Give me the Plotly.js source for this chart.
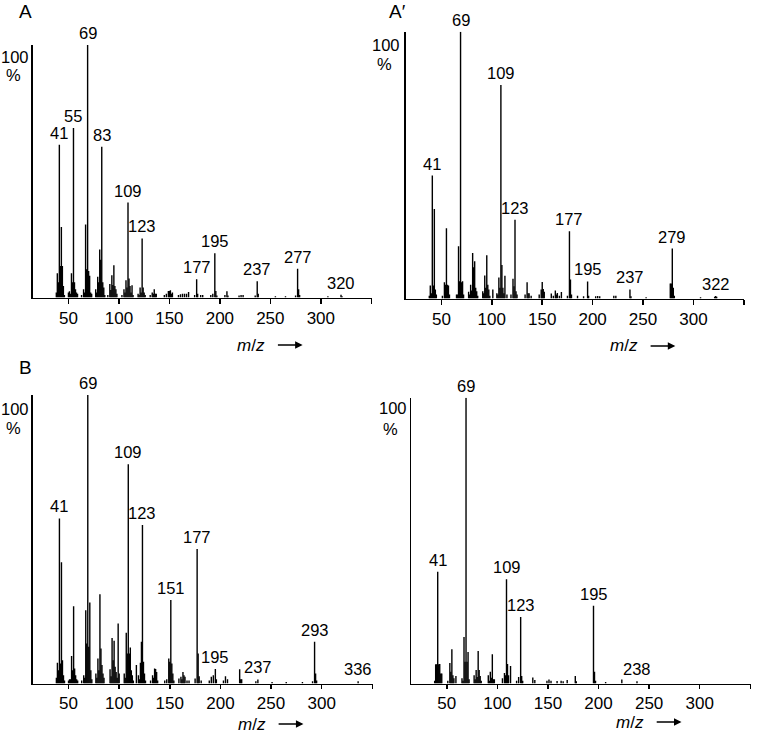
<!DOCTYPE html>
<html>
<head>
<meta charset="utf-8">
<script src="https://cdn.plot.ly/plotly-3.0.1.min.js"></script>
<style>html,body{margin:0;padding:0;background:#fff;}#chart{width:765px;height:735px;}</style>
</head>
<body>
<div id="chart"></div>
<script>
// Panel A
var mzA = [38,39,40,41,42,43,44,45,46,50,51,52,53,54,55,56,57,58,59,63,65,66,67,68,69,70,71,72,73,77,78,79,80,81,82,83,84,85,86,89,91,92,93,94,95,96,97,98,103,105,106,107,108,109,110,111,112,113,114,119,120,121,122,123,124,125,126,131,133,134,135,136,137,145,147,149,150,151,152,153,159,161,163,165,167,169,175,177,178,181,183,191,193,195,196,197,205,207,208,219,221,223,235,237,238,255,265,275,277,278,279,307,320,321];
var intA = [2,9.6,6,60.5,12.5,27.9,12.5,4.6,1,2,2.5,1.5,9.6,6,67.1,6,3.3,2,1.5,1,3.3,2,28.9,11.2,100,10.5,8.6,2,1.5,3.3,2,8.2,6,19,15,59.7,6,4,1,1,5.3,3,8.8,5,12.8,4.6,3.3,1.5,1,3.3,2,6.8,4,37.6,7.5,4.6,2,4.9,1,1.5,1,4,2,23.4,4,2,1,1,2,1.5,3.3,1.5,1.5,1,1.5,2.6,2.6,2.9,1.5,2,1,1.3,1.5,1.5,1.5,2.2,1,7.2,1.5,1,1,1,1.5,17.5,2.6,0.8,1,2.5,0.8,0.8,1,1,0.8,6.4,1.5,0.5,0.5,0.8,11.4,3.3,1,0.5,1.1,0.5];
var labA = [41,55,69,83,109,123,177,195,237,277,320];

// Panel A'
var mzA2 = [38,39,40,41,42,43,44,45,51,53,54,55,56,57,58,65,66,67,68,69,70,71,72,77,78,79,80,81,82,83,84,85,86,91,92,93,94,95,96,97,98,101,105,106,107,108,109,110,111,112,113,115,119,121,122,123,124,125,133,135,136,137,139,147,149,150,151,152,159,161,163,164,165,167,169,175,177,178,179,185,191,195,196,203,205,207,221,223,237,238,253,277,278,279,280,281,307,321,322,323];
var intA2 = [1,4.9,2,46.1,4.9,33.5,3.4,1.5,1,6.1,5.2,26.3,5.2,4.9,1.5,1.5,1.5,19.6,6.5,100,6.1,6.5,1.5,2.5,1.5,5.2,3,17.1,11.7,14,4,2.7,1,2.7,2,8.6,4,16.2,5.2,3.4,1,3.4,2,1.5,7.9,4,80,12.6,4,2,8.5,1.5,1.5,7.4,4.6,29.5,2.7,1.5,1.5,6.1,2,2,1,1.5,3.4,6.2,3.6,2.5,1.9,1,3,1.5,2.1,1,2.4,1,25.2,7.1,1.5,1,0.8,6.4,1,0.8,0.9,0.8,1,1,3.4,0.8,0.5,5.6,5.6,18.7,4,1,0.5,0.7,0.9,0.7];
var labA2 = [41,69,109,123,177,195,237,279,322];

// Panel B
var mzB = [38,39,40,41,42,43,44,45,46,50,51,52,53,54,55,56,57,58,59,63,65,66,67,68,69,70,71,72,73,77,78,79,80,81,82,83,84,85,91,92,93,94,95,96,97,98,99,100,105,106,107,108,109,110,111,112,113,114,117,119,120,121,122,123,124,125,126,131,133,134,135,136,137,138,145,147,149,150,151,152,153,154,159,161,162,163,164,165,167,169,175,177,178,179,181,189,191,193,195,196,203,205,207,219,220,221,235,237,251,265,281,291,293,294,295,336];
var intB = [2,7.2,4.6,57.2,6.9,42,8.1,2.9,1,1,1.5,1.5,9.5,4.6,26.8,5.2,2.9,1.5,1,1,2.9,2,25.4,13.9,100,12.7,28.1,4.6,1.5,3.5,2,8.7,4.6,30.9,12.1,6.4,3.5,2,4.9,2.5,15.8,8.1,14.8,5.8,4,2,20.8,3.5,3.5,2,17.6,10.4,76,10.4,12.5,4.6,2.9,1,6.4,2.9,1.5,7.2,14.5,54.9,7.5,3.5,1,1,2.9,2,5.2,5,4,1,1,1.5,8.7,7.5,28.9,6.9,3.5,1,1.7,2.3,1.5,4,2.9,2.3,1,1,1.7,46.6,10.4,2.5,1,1,2.3,2.9,5,1.5,1,2.5,1.5,4.9,1.5,1.5,0.8,1.4,0.5,0.5,0.5,0.8,14.5,3.5,1,0.8];
var labB = [41,69,109,123,151,177,195,237,293,336];

// Panel B'
var mzB2 = [38,39,40,41,42,43,44,45,51,53,54,55,56,57,59,65,66,67,68,69,70,71,72,77,78,79,80,81,82,83,84,91,92,93,94,95,96,97,105,107,108,109,110,111,113,119,121,123,124,125,135,137,149,151,153,159,163,165,169,177,178,195,196,197,207,223,238];
var intB2 = [1,6.7,6.7,39.1,6.7,6.8,3.5,3.5,1,7.2,4.1,12,2.9,1.8,2.6,1.8,1,16.3,7.6,100,7.6,11,1.5,2.9,1.5,4.7,2.3,11.4,4.7,2.6,1,2.9,1,4.1,2,10.2,1.5,1.5,1.8,3.7,2.9,36.5,6.8,2.9,6.1,1,2.3,23.3,2.6,1,2.1,1.2,1,1.4,1,0.9,1,0.8,1.2,2.6,0.8,27.2,4.1,1,0.5,1.4,0.8];
var labB2 = [41,69,109,123,195,238];

var tickVals = [50,100,150,200,250,300,350];
var tickText = ['50','100','150','200','250','300',''];
var panelNames = ['A','A\u2032','B',''];

var FONT = 'Arial, "Liberation Sans", Helvetica, sans-serif';
var W = 765, H = 735;
function px(x){return x/W;}
function py(y){return 1 - y/H;}

// pixel geometry of each panel: [left, right, top, baseline]
var geo = [
  [32.7, 371.7, 45, 297.5],
  [405.7, 744.3, 31.7, 298.5],
  [32.7, 372.7, 395, 683.5],
  [411, 750.7, 397.7, 683.5]
];
var series = [[mzA,intA,labA],[mzA2,intA2,labA2],[mzB,intB,labB],[mzB2,intB2,labB2]];
var hundredPos = [[15,56.5],[385.5,45],[15,409],[393,408]];
var pctPos = [[13.5,75],[384,64],[13.5,428],[390,429]];
var namePos = [[25.5,11.7],[397,11.7],[25.8,367],[0,0]];
var mzY = [345,346,724,722];
var tlen = [5,5,4,4];

// stick-spectrum segments built from the peak arrays
function sticks(mz, inten) {
  var xs = [], ys = [];
  for (var j = 0; j < mz.length; j++) {
    xs.push(mz[j], mz[j], null);
    ys.push(0, inten[j], null);
  }
  return [xs, ys];
}

var data = [], annotations = [], layout = {
  width: W, height: H,
  margin: {l:0,r:0,t:0,b:0},
  paper_bgcolor: '#fff', plot_bgcolor: 'rgba(0,0,0,0)',
  showlegend: false,
  font: {family: FONT, size: 16, color: '#000'}
};

for (var i = 0; i < 4; i++) {
  var sx = i === 0 ? '' : String(i+1);
  var xa = 'x' + sx, ya = 'y' + sx;
  var g = geo[i];
  var st = sticks(series[i][0], series[i][1]);
  data.push({
    type: 'scatter', mode: 'lines', x: st[0], y: st[1],
    xaxis: xa, yaxis: ya, connectgaps: false,
    line: {color: '#000', width: 1.4}, hoverinfo: 'x+y'
  });
  layout['xaxis' + sx] = {
    domain: [px(g[0]), px(g[1])], anchor: ya,
    range: [14.6, 350.4], showgrid: false, zeroline: false,
    showline: true, linecolor: '#000', linewidth: 1.5,
    ticks: 'outside', ticklen: tlen[i], tickwidth: 1.5, tickcolor: '#000',
    tickvals: tickVals, ticktext: tickText,
    tickfont: {family: FONT, size: 17, color: '#000'}
  };
  layout['yaxis' + sx] = {
    domain: [py(g[3]), py(g[2])], anchor: xa,
    range: [0, 100], showgrid: false, zeroline: false,
    showline: true, linecolor: '#000', linewidth: 1.5,
    ticks: '', showticklabels: false
  };
  var labs = series[i][2];
  for (var k = 0; k < labs.length; k++) {
    var idx = series[i][0].indexOf(labs[k]);
    annotations.push({
      xref: xa, yref: ya, x: labs[k], y: series[i][1][idx],
      text: String(labs[k]), showarrow: false,
      xanchor: 'center', yanchor: 'bottom', yshift: 1,
      font: {family: FONT, size: 16.5, color: '#000'}
    });
  }
  annotations.push({xref:'paper', yref:'paper', x: px(hundredPos[i][0]), y: py(hundredPos[i][1]),
    text: '100', showarrow: false, xanchor: 'center', yanchor: 'middle',
    font: {family: FONT, size: 16.5, color: '#000'}});
  annotations.push({xref:'paper', yref:'paper', x: px(pctPos[i][0]), y: py(pctPos[i][1]),
    text: '%', showarrow: false, xanchor: 'center', yanchor: 'middle',
    font: {family: FONT, size: 16.5, color: '#000'}});
  if (panelNames[i]) {
    annotations.push({xref:'paper', yref:'paper', x: px(namePos[i][0]), y: py(namePos[i][1]),
      text: panelNames[i], showarrow: false, xanchor: 'center', yanchor: 'middle',
      font: {family: FONT, size: 19, color: '#000'}});
  }
  annotations.push({xref: xa, yref: 'paper', x: 231, y: py(mzY[i]),
    text: '<i>m</i>/<i>z</i>', showarrow: false, xanchor: 'center', yanchor: 'middle',
    font: {family: FONT, size: 17, color: '#000'}});
  annotations.push({xref: xa, yref: 'paper', x: 282, y: py(mzY[i]),
    axref: xa, ax: 256, ayref: 'pixel', ay: 0,
    text: '', showarrow: true, arrowhead: 2, arrowsize: 1, arrowwidth: 1.5, arrowcolor: '#000',
    standoff: 0, startstandoff: 0});
}
layout.annotations = annotations;

Plotly.newPlot('chart', data, layout, {displayModeBar: false, staticPlot: true});
</script>
</body>
</html>
